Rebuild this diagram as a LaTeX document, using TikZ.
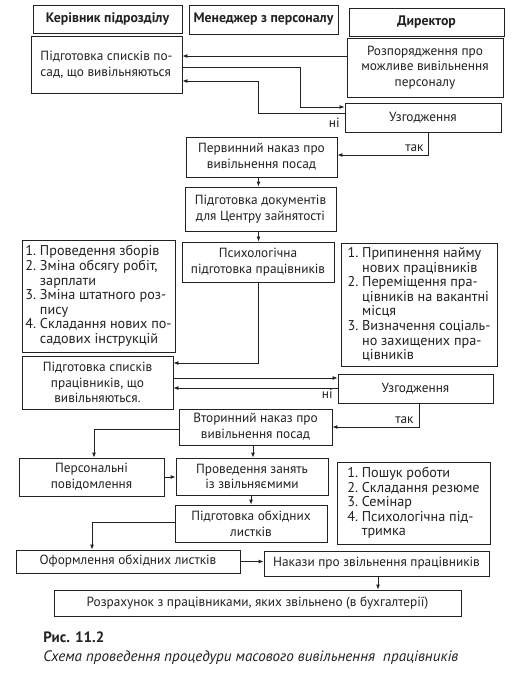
\documentclass[tikz,border=0pt]{standalone}
\usepackage{fontspec}
\setmainfont{PT Sans}
\usetikzlibrary{arrows.meta}
\definecolor{ink}{HTML}{222222}
\begin{document}
\begin{tikzpicture}[x=1pt,y=-1pt,
  every path/.style={draw=ink, line width=0.85pt},
  box/.style={draw=ink, line width=0.85pt, inner sep=2pt, align=center, text=ink,
    font=\fontsize{13.3}{15.8}\selectfont},
  lbox/.style={box, align=left},
  listbox/.style={box, align=left, font=\fontsize{14.2}{14.6}\selectfont},
  head/.style={box, font=\bfseries\fontsize{13.8}{15}\selectfont},
  arr/.style={-{Latex[length=5pt,width=4pt]}},
  lab/.style={text=ink, font=\fontsize{13.3}{14}\selectfont, inner sep=0pt}]
\useasboundingbox[fill=white,draw=none] (0,0) rectangle (516,674);
\newcommand{\ind}{\phantom{0.~}}
% header
\node[head, minimum width=149pt, minimum height=28pt] (h1) at (107.5,19) {Керівник підрозділу};
\node[head, minimum width=149pt, minimum height=29pt] (h2) at (263.5,19.5) {Менеджер з персоналу};
\node[head, minimum width=155pt, minimum height=28pt] (h3) at (426.5,22) {Директор};
% nodes
\node[lbox, minimum width=151pt, minimum height=57pt] (n1) at (106.5,64.5) {Підготовка списків по-\\сад, що вивільняються};
\node[box, minimum width=156pt, minimum height=59pt] (n2) at (425,67.5) {Розпорядження про\\можливе вивільнення\\персоналу};
\node[box, minimum width=156pt, minimum height=29pt] (n3) at (423,117.5) {Узгодження};
\node[box, minimum width=151pt, minimum height=40pt] (n4) at (261.5,157) {Первинний наказ про\\вивільнення посад};
\node[box, minimum width=151pt, minimum height=44pt] (n5) at (260.5,209) {Підготовка документів\\для Центру зайнятості};
\node[box, minimum width=152pt, minimum height=40pt] (n6) at (258,262) {Психологічна\\підготовка працівників};
\node[listbox, minimum width=153pt, minimum height=112pt] (l1) at (98.5,296) {1.~Проведення зборів\\2.~Зміна обсягу робіт,\\\ind зарплати\\3.~Зміна штатного роз-\\\ind пису\\4.~Складання нових по-\\\ind садових інструкцій};
\node[listbox, minimum width=156pt, minimum height=123pt] (r1) at (419,304.5) {1.~Припинення найму\\\ind нових працівників\\2.~Переміщення пра-\\\ind цівників на вакантні\\\ind місця\\3.~Визначення соціаль-\\\ind но захищених пра-\\\ind цівників};
\node[box, minimum width=151pt, minimum height=53pt] (n7) at (97.5,382.5) {Підготовка списків\\працівників, що\\вивільняються.};
\node[box, minimum width=155pt, minimum height=29pt] (n8) at (415.5,388.5) {Узгодження};
\node[box, minimum width=153pt, minimum height=36pt] (n9) at (255.5,427) {Вторинний наказ про\\вивільнення посад};
\node[box, minimum width=145pt, minimum height=38pt] (n10) at (91.5,477) {Персональні\\повідомлення};
\node[box, minimum width=152pt, minimum height=37pt] (n11) at (252,476.5) {Проведення занять\\із звільняємими};
\node[listbox, minimum width=153pt, minimum height=82pt] (r2) at (413.5,503) {1.~Пошук роботи\\2.~Складання резюме\\3.~Семінар\\4.~Психологічна під-\\\ind тримка};
\node[box, minimum width=152pt, minimum height=37pt] (n12) at (251,523.5) {Підготовка обхідних\\листків};
\node[box, minimum width=224pt, minimum height=23pt] (n13) at (128,561.5) {Оформлення обхідних листків};
\node[box, minimum width=225pt, minimum height=25pt] (n14) at (376.5,563.5) {Накази про звільнення працівників};
\node[box, minimum width=407pt, minimum height=26pt] (n15) at (257.5,603) {Розрахунок з працівниками, яких звільнено (в бухгалтерії)};
% connectors
\draw[arr] ([yshift=11.5pt]n2.west) -- ([yshift=8.5pt]n1.east);
\draw[arr] ([yshift=-2.5pt]n1.east) -- ++(118,0) |- ([yshift=10.5pt]n3.west);
\draw[arr] ([yshift=4.5pt]n3.west) -- ++(-86,0) |- ([yshift=-16.5pt]n1.east);
\node[lab, anchor=north east] (ni1) at (340,118) {ні};
\draw[arr] ([xshift=5pt]n3.south) |- ([yshift=2pt]n4.east);
\node[lab, anchor=south east] (tak1) at (424,152) {так};
\draw[arr] ([xshift=-3pt]n4.south) -- ([xshift=-3pt]n4.south |- n5.north);
\draw[arr] ([xshift=-2pt]n5.south) -- ([xshift=-2pt]n5.south |- n6.north);
\draw[arr] (n6.south) |- ([yshift=19.5pt]n7.east);
\draw[arr] ([yshift=4.5pt]n7.east) -- ([yshift=10.5pt]n8.west);
\draw[arr] ([yshift=0.5pt]n8.west) -- ([yshift=-5.5pt]n7.east);
\node[lab, anchor=north east] (ni2) at (333,389) {ні};
\draw[arr] ([xshift=3.5pt]n8.south) |- (n9.east);
\node[lab, anchor=south east] (tak2) at (414,424) {так};
\draw[arr] ([yshift=-2pt]n9.west) -| ([xshift=2.5pt]n10.north);
\draw[arr] ([xshift=-2.5pt]n9.south) -- ([xshift=-2.5pt]n9.south |- n11.north);
\draw[arr] (n10.east) -- (n10.east -| n11.west);
\draw[arr] ([xshift=-1pt]n11.south) -- ([xshift=-1pt]n11.south |- n12.north);
\draw[arr] ([yshift=1.5pt]n12.west) -| ([xshift=-36pt]n13.north);
\draw[arr] (n13.east) -- (n13.east -| n14.west);
\draw[arr] ([xshift=1.5pt]n14.south) -- ([xshift=1.5pt]n14.south |- n15.north);
% caption
\node[lab, anchor=west, font=\bfseries\fontsize{15}{17}\selectfont] (cap1) at (43,637) {Рис. 11.2};
\node[lab, anchor=west, font=\itshape\fontsize{15.1}{17}\selectfont] (cap2) at (43,658) {Схема проведення процедури масового вивільнення\ \ працівників};
\end{tikzpicture}
\end{document}
